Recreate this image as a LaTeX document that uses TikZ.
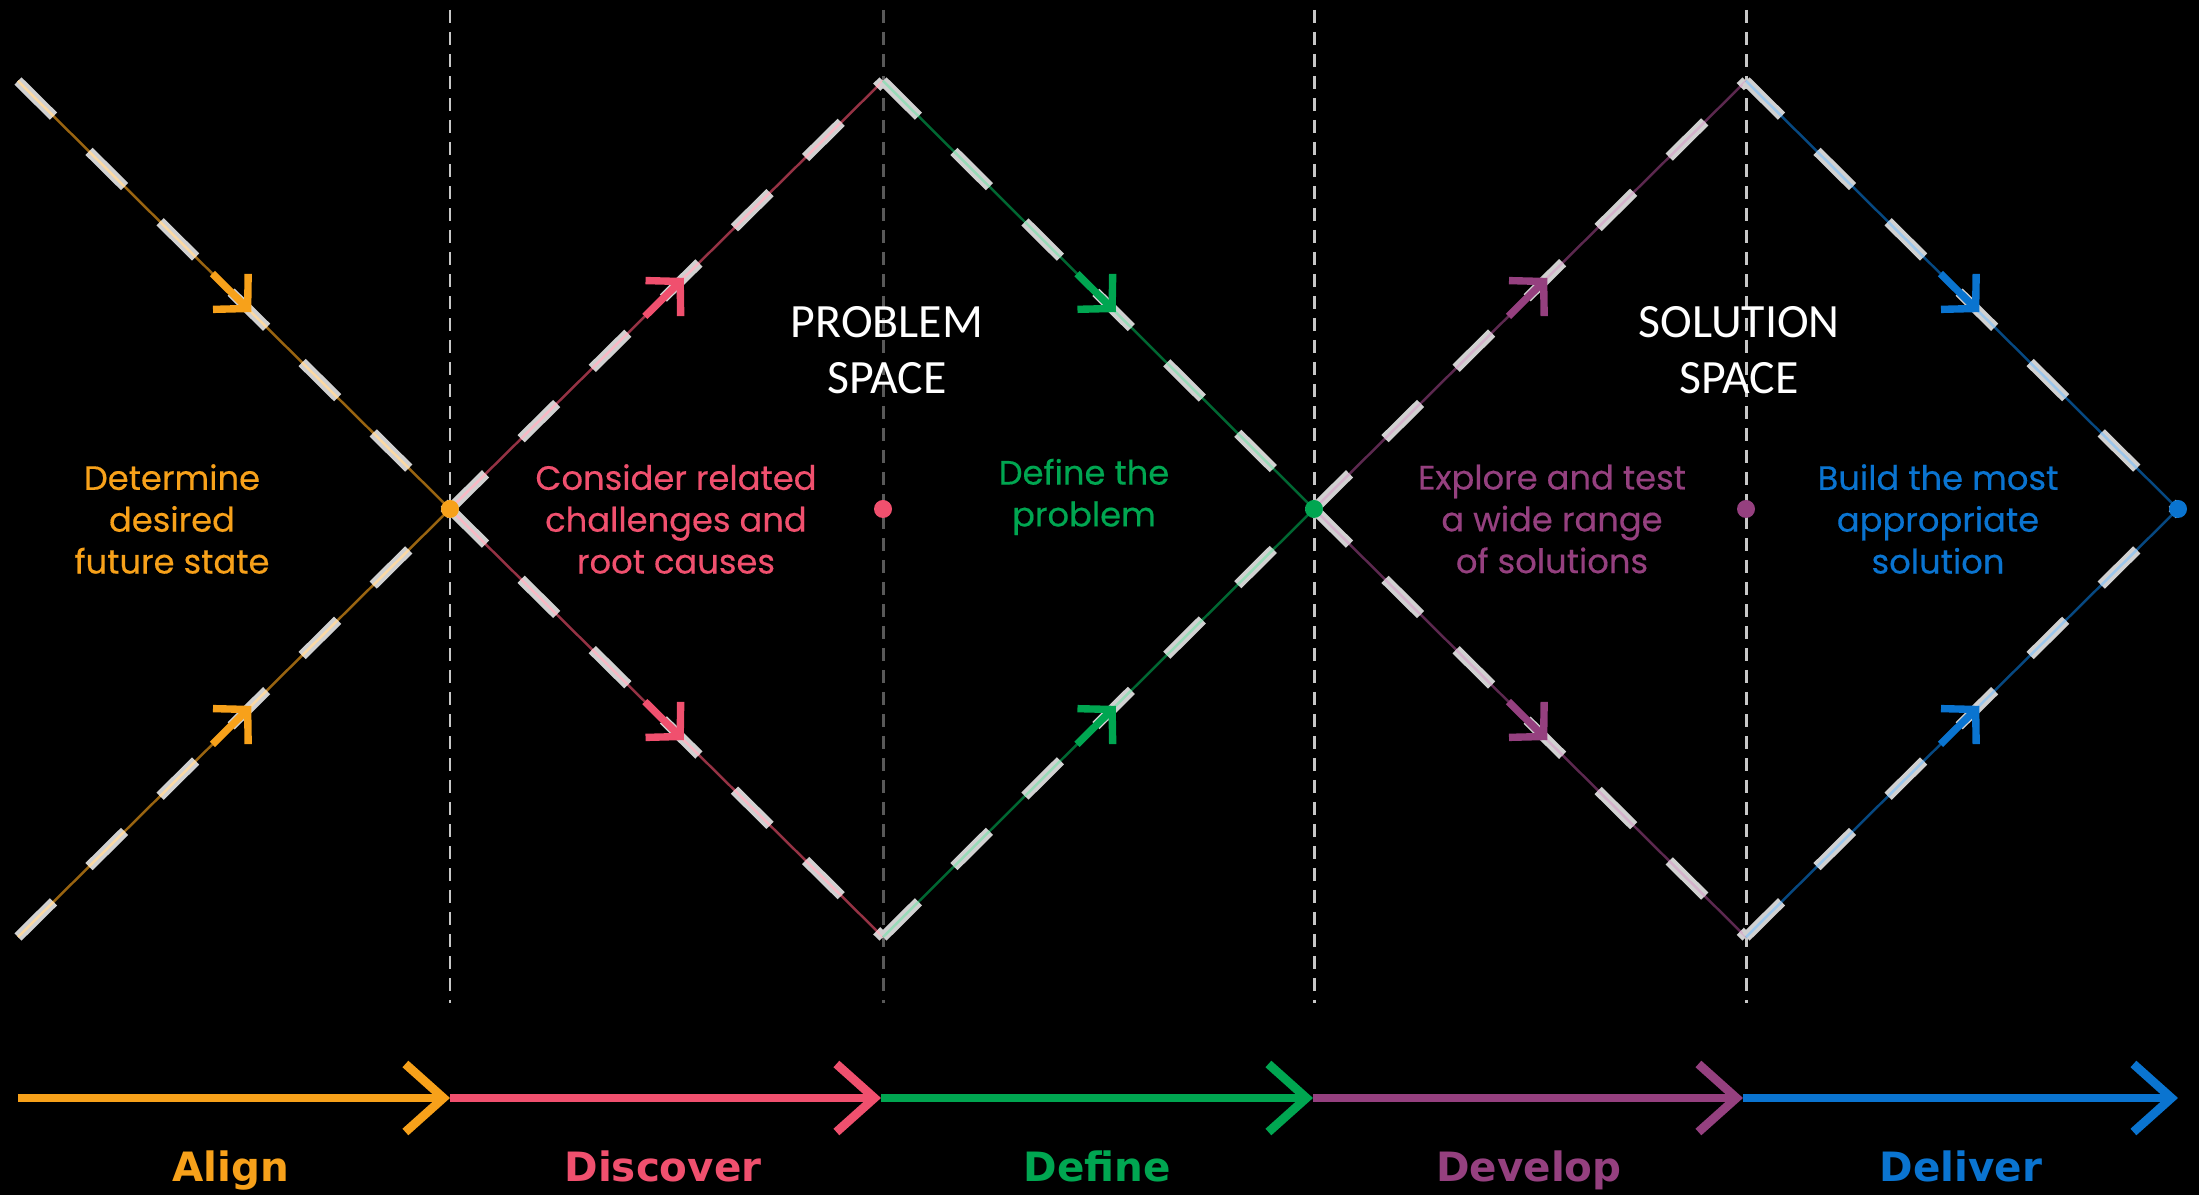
\documentclass[tikz,border=0pt]{standalone}
\usepackage{fontspec}
\setmainfont{Poppins}
\newfontfamily\phasefont[FakeBold=0.4]{Poppins}
\newfontfamily\spacefont{Carlito}
\newfontfamily\stagefont{DejaVu Sans}
\usetikzlibrary{arrows.meta}
\usetikzlibrary{calc}
\usetikzlibrary{positioning}
\definecolor{malign}{HTML}{F7A11A}
\definecolor{mdiscover}{HTML}{F0506E}
\definecolor{mdefine}{HTML}{00A651}
\definecolor{mdevelop}{HTML}{95407F}
\definecolor{mdeliver}{HTML}{0A74D0}

\begin{document}
\begin{tikzpicture}[
    guide/.style={white!78!black, line width=0.85pt, dash pattern=on 0.13cm off 0.09cm},
    leg/.style={#1!62!black, line width=0.7pt,
      postaction={draw=white!82!black, line width=2.9pt, dash pattern=on 0.5cm off 0.5cm},
      postaction={draw=#1!40!white, line width=0.7pt, dash pattern=on 0.5cm off 0.5cm}},
    flow/.style={#1, line width=2.1pt, -{Straight Barb[length=0.24cm, width=0.5cm]}},
    bar/.style={#1, line width=2.5pt, -{Straight Barb[length=0.38cm, width=0.68cm]}},
    phasetext/.style={text=#1, align=center, font=\phasefont\fontsize{9.6}{11.9}\selectfont},
    spacetext/.style={text=white, align=center, font=\spacefont\fontsize{13.6}{16}\selectfont},
    stagetext/.style={text=#1, anchor=base, font=\stagefont\bfseries\fontsize{11.5}{13}\selectfont}]
    \useasboundingbox (0, 0) rectangle (21.99, 11.95);
    \fill [black] (0, 0) rectangle (21.99, 11.95);

    % vertices of the two diamonds
    \coordinate (tl) at (0.18, 11.14);
    \coordinate (bl) at (0.18, 2.58);
    \coordinate (xa) at (4.50, 6.86);
    \coordinate (pt) at (8.83, 11.14);
    \coordinate (pb) at (8.83, 2.58);
    \coordinate (pc) at (8.83, 6.86);
    \coordinate (xb) at (13.14, 6.86);
    \coordinate (st) at (17.46, 11.14);
    \coordinate (sb) at (17.46, 2.58);
    \coordinate (sc) at (17.46, 6.86);
    \coordinate (rt) at (21.78, 6.86);

    % stage borders
    \draw [guide] (4.50, 11.85) -- (4.50, 1.92);
    \draw [guide, white!35!black] (8.83, 11.85) -- (8.83, 1.92);
    \draw [guide] (13.14, 11.85) -- (13.14, 1.92);
    \draw [guide] (17.46, 11.85) -- (17.46, 1.92);

    \draw [leg=malign] (tl) -- (xa);
    \draw [leg=malign] (bl) -- (xa);
    \draw [leg=mdiscover] (xa) -- (pt);
    \draw [leg=mdiscover] (xa) -- (pb);
    \draw [leg=mdefine] (pt) -- (xb);
    \draw [leg=mdefine] (pb) -- (xb);
    \draw [leg=mdevelop] (xb) -- (st);
    \draw [leg=mdevelop] (xb) -- (sb);
    \draw [leg=mdeliver] (st) -- (rt);
    \draw [leg=mdeliver] (sb) -- (rt);

    \draw [flow=malign] ($(tl)!0.45!(xa)$) -- ($(tl)!0.54!(xa)$);
    \draw [flow=malign] ($(bl)!0.45!(xa)$) -- ($(bl)!0.54!(xa)$);
    \draw [flow=mdiscover] ($(xa)!0.45!(pt)$) -- ($(xa)!0.54!(pt)$);
    \draw [flow=mdiscover] ($(xa)!0.45!(pb)$) -- ($(xa)!0.54!(pb)$);
    \draw [flow=mdefine] ($(pt)!0.45!(xb)$) -- ($(pt)!0.54!(xb)$);
    \draw [flow=mdefine] ($(pb)!0.45!(xb)$) -- ($(pb)!0.54!(xb)$);
    \draw [flow=mdevelop] ($(xb)!0.45!(st)$) -- ($(xb)!0.54!(st)$);
    \draw [flow=mdevelop] ($(xb)!0.45!(sb)$) -- ($(xb)!0.54!(sb)$);
    \draw [flow=mdeliver] ($(st)!0.45!(rt)$) -- ($(st)!0.54!(rt)$);
    \draw [flow=mdeliver] ($(sb)!0.45!(rt)$) -- ($(sb)!0.54!(rt)$);

    \fill [malign] (xa) circle (0.09);
    \fill [mdiscover] (pc) circle (0.09);
    \fill [mdefine] (xb) circle (0.09);
    \fill [mdevelop] (sc) circle (0.09);
    \fill [mdeliver] (rt) circle (0.09);

    \node [phasetext=malign] (aligntext) at (1.72, 6.76) {Determine\\desired\\future state};
    \node [phasetext=mdiscover] (discovertext) at (6.76, 6.76) {Consider related\\challenges and\\root causes};
    \node [phasetext=mdefine] (definetext) at (10.84, 6.98) {Define the\\problem};
    \node [phasetext=mdevelop] (developtext) at (15.52, 6.76) {Explore and test\\a wide range\\of solutions};
    \node [phasetext=mdeliver] (delivertext) at (19.38, 6.76) {Build the most\\appropriate\\solution};

    \node [spacetext] (problem) at (8.87, 8.45) {PROBLEM\\SPACE};
    \node [spacetext] (solution) at (17.39, 8.45) {SOLUTION\\SPACE};

    % stage bar
    \coordinate (bar0) at (0.18, 0.97);
    \coordinate (bar1) at (4.50, 0.97);
    \coordinate (bar2) at (8.81, 0.97);
    \coordinate (bar3) at (13.13, 0.97);
    \coordinate (bar4) at (17.43, 0.97);
    \coordinate (bar5) at (21.78, 0.97);
    \draw [bar=malign] (bar0) -- (bar1);
    \draw [bar=mdiscover] (bar1) -- (bar2);
    \draw [bar=mdefine] (bar2) -- (bar3);
    \draw [bar=mdevelop] (bar3) -- (bar4);
    \draw [bar=mdeliver] (bar4) -- (bar5);

    \node [stagetext=malign] (align) at (2.31, 0.13) {Align};
    \node [stagetext=mdiscover] (discover) at (6.63, 0.13) {Discover};
    \node [stagetext=mdefine] (define) at (10.97, 0.13) {Define};
    \node [stagetext=mdevelop] (develop) at (15.29, 0.13) {Develop};
    \node [stagetext=mdeliver] (deliver) at (19.61, 0.13) {Deliver};
  \end{tikzpicture}
\end{document}
